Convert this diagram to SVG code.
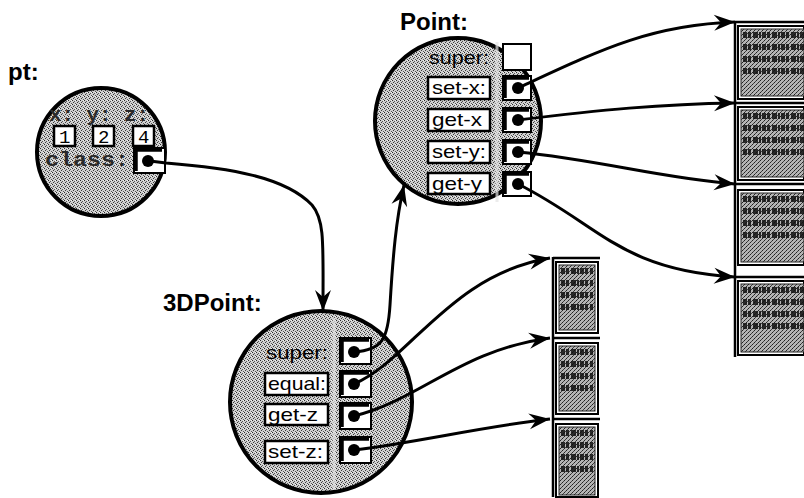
<svg xmlns="http://www.w3.org/2000/svg" width="804" height="498" viewBox="0 0 804 498">
<style>
.title{font-family:"Liberation Sans",Arial,sans-serif;font-weight:bold;font-size:24px;fill:#000}
.lbl{font-family:"Liberation Sans",Arial,sans-serif;font-size:19px;fill:#000}
.mono{font-family:"Liberation Mono","Courier New",monospace;font-size:20px;font-weight:bold;fill:#2a2a2a}
.num{font-family:"Liberation Mono","Courier New",monospace;font-size:19px;fill:#000}
.orb{fill:url(#dither);stroke:#000;stroke-width:4}
.lbox{fill:#fff;stroke:#000;stroke-width:2.5}
.vbox{fill:#fff;stroke:#000;stroke-width:2}
.vin{fill:none;stroke:#000;stroke-width:3.5}
.dot{fill:#000}
.conn{fill:none;stroke:#000;stroke-width:3;marker-end:url(#arr)}
.frame{fill:#fff;stroke:#000;stroke-width:2}
.code{fill:url(#dark);stroke:#222;stroke-width:1}
.glyph{stroke:#111;stroke-width:6;stroke-dasharray:4 1 3 2 5 1 2 1;fill:none;opacity:0.85}
.stripe{stroke:#e4e4e4;stroke-width:3;opacity:0.7}
.rule{stroke:#000;stroke-width:2.5}
</style>
<defs>
<pattern id="dither" width="4" height="4" patternUnits="userSpaceOnUse">
<rect width="4" height="4" fill="#d0d0d0"/>
<rect x="0" y="0" width="1" height="1" fill="#2a2a2a"/>
<rect x="2" y="1" width="1" height="1" fill="#555"/>
<rect x="1" y="2" width="1" height="1" fill="#3a3a3a"/>
<rect x="3" y="3" width="1" height="1" fill="#555"/>
<rect x="3" y="0" width="1" height="1" fill="#f4f4f4"/>
</pattern>
<pattern id="dark" width="4" height="4" patternUnits="userSpaceOnUse">
<rect width="4" height="4" fill="#b4b4b4"/>
<rect x="0" y="0" width="1" height="1" fill="#222"/>
<rect x="2" y="2" width="1" height="1" fill="#222"/>
<rect x="1" y="3" width="1" height="1" fill="#444"/>
<rect x="3" y="1" width="1" height="1" fill="#444"/>
</pattern>
<marker id="arr" markerUnits="userSpaceOnUse" markerWidth="26" markerHeight="20" viewBox="-22 -10 24 20" refX="0" refY="0" orient="auto">
<path d="M0,0 L-21,-8 L-14,0 L-21,8 Z" fill="#000"/>
</marker>
</defs>

<g id="pt">
<text class="title" x="8" y="80">pt:</text>
<circle class="orb" cx="101" cy="152" r="64"/>
<text class="mono" x="49" y="121" textLength="100" lengthAdjust="spacingAndGlyphs">x: y: z:</text>
<rect class="lbox" x="54" y="126" width="21" height="20"/>
<text class="num" x="59" y="143">1</text>
<rect class="lbox" x="93" y="126" width="21" height="20"/>
<text class="num" x="98" y="143">2</text>
<rect class="lbox" x="133" y="126" width="21" height="20"/>
<text class="num" x="138" y="143">4</text>
<text class="mono" x="45" y="166" textLength="84" lengthAdjust="spacingAndGlyphs">class:</text>
<rect class="vbox" x="134" y="148" width="31" height="25"/>
<path class="vin" d="M136 171 V150 H162"/>
<circle class="dot" cx="148" cy="161" r="6"/>
</g>

<g id="Point">
<circle class="orb" cx="458" cy="121" r="83"/>
<text class="title" x="400" y="30">Point:</text>
<line class="stripe" x1="497" y1="42" x2="497" y2="202"/>
<text class="lbl" x="429" y="64" textLength="60" lengthAdjust="spacingAndGlyphs">super:</text>
<rect class="vbox" x="503" y="44" width="28" height="26"/>
<rect class="lbox" x="428" y="77" width="62" height="22"/>
<text class="lbl" x="432" y="94" textLength="54" lengthAdjust="spacingAndGlyphs">set-x:</text>
<rect class="vbox" x="503" y="76" width="28" height="24"/><path class="vin" d="M505 98 V78 H529"/><circle class="dot" cx="518" cy="88" r="6"/>
<rect class="lbox" x="428" y="109" width="62" height="22"/>
<text class="lbl" x="432" y="126" textLength="50" lengthAdjust="spacingAndGlyphs">get-x</text>
<rect class="vbox" x="503" y="108" width="28" height="24"/><path class="vin" d="M505 130 V110 H529"/><circle class="dot" cx="518" cy="120" r="6"/>
<rect class="lbox" x="428" y="141" width="62" height="22"/>
<text class="lbl" x="432" y="158" textLength="54" lengthAdjust="spacingAndGlyphs">set-y:</text>
<rect class="vbox" x="503" y="140" width="28" height="24"/><path class="vin" d="M505 162 V142 H529"/><circle class="dot" cx="518" cy="152" r="6"/>
<rect class="lbox" x="428" y="173" width="62" height="21"/>
<text class="lbl" x="432" y="190" textLength="50" lengthAdjust="spacingAndGlyphs">get-y</text>
<rect class="vbox" x="503" y="172" width="28" height="24"/><path class="vin" d="M505 194 V174 H529"/><circle class="dot" cx="518" cy="184" r="6"/>
</g>

<g id="ThreeDPoint">
<circle class="orb" cx="321" cy="402" r="91"/>
<text class="title" x="163" y="311">3DPoint:</text>
<line class="stripe" x1="334" y1="318" x2="334" y2="490"/>
<text class="lbl" x="266" y="359" textLength="62" lengthAdjust="spacingAndGlyphs">super:</text>
<rect class="vbox" x="340" y="338" width="31" height="26"/><path class="vin" d="M342 362 V340 H369"/><circle class="dot" cx="354" cy="352" r="6"/>
<rect class="lbox" x="265" y="373" width="63" height="22"/>
<text class="lbl" x="268" y="390" textLength="58" lengthAdjust="spacingAndGlyphs">equal:</text>
<rect class="vbox" x="340" y="371" width="31" height="26"/><path class="vin" d="M342 395 V373 H369"/><circle class="dot" cx="354" cy="384" r="6"/>
<rect class="lbox" x="265" y="404" width="63" height="21"/>
<text class="lbl" x="268" y="421" textLength="50" lengthAdjust="spacingAndGlyphs">get-z</text>
<rect class="vbox" x="340" y="403" width="31" height="26"/><path class="vin" d="M342 427 V405 H369"/><circle class="dot" cx="354" cy="416" r="6"/>
<rect class="lbox" x="265" y="441" width="63" height="22"/>
<text class="lbl" x="268" y="458" textLength="55" lengthAdjust="spacingAndGlyphs">set-z:</text>
<rect class="vbox" x="340" y="437" width="31" height="26"/><path class="vin" d="M342 461 V439 H369"/><circle class="dot" cx="354" cy="450" r="6"/>
</g>

<g id="methods3D">
<line class="rule" x1="553" y1="257" x2="553" y2="497"/>
<line class="rule" x1="553" y1="258" x2="600" y2="258"/>
<line class="rule" x1="553" y1="338" x2="600" y2="338"/>
<line class="rule" x1="553" y1="419" x2="600" y2="419"/>
<g id="m3d1"><rect class="frame" x="556" y="262" width="42" height="71"/><rect class="code" x="559" y="265" width="36" height="65"/>
<path class="glyph" d="M561 271 H593 M561 283 H593 M561 295 H593 M561 307 H593"/></g>
<g id="m3d2"><rect class="frame" x="556" y="343" width="42" height="71"/><rect class="code" x="559" y="346" width="36" height="65"/>
<path class="glyph" d="M561 352 H593 M561 364 H593 M561 376 H593 M561 388 H593"/></g>
<g id="m3d3"><rect class="frame" x="556" y="424" width="42" height="73"/><rect class="code" x="559" y="427" width="36" height="68"/>
<path class="glyph" d="M561 433 H593 M561 445 H593 M561 457 H593 M561 469 H593"/></g>
</g>

<g id="methodsPoint">
<line class="rule" x1="735" y1="21" x2="735" y2="357"/>
<line class="rule" x1="735" y1="22" x2="804" y2="22"/>
<line class="rule" x1="735" y1="103" x2="804" y2="103"/>
<line class="rule" x1="735" y1="184" x2="804" y2="184"/>
<line class="rule" x1="735" y1="277" x2="804" y2="277"/>
<g id="mp1"><rect class="frame" x="738" y="26" width="66" height="73"/><rect class="code" x="741" y="29" width="63" height="67"/>
<path class="glyph" d="M743 35 H804 M743 47 H804 M743 59 H804 M743 71 H804"/></g>
<g id="mp2"><rect class="frame" x="738" y="107" width="66" height="73"/><rect class="code" x="741" y="110" width="63" height="67"/>
<path class="glyph" d="M743 116 H804 M743 128 H804 M743 140 H804 M743 152 H804"/></g>
<g id="mp3"><rect class="frame" x="738" y="190" width="66" height="75"/><rect class="code" x="741" y="193" width="63" height="69"/>
<path class="glyph" d="M743 199 H804 M743 211 H804 M743 223 H804 M743 235 H804"/></g>
<g id="mp4"><rect class="frame" x="738" y="281" width="66" height="74"/><rect class="code" x="741" y="284" width="63" height="68"/>
<path class="glyph" d="M743 290 H804 M743 302 H804 M743 314 H804 M743 326 H804"/></g>
</g>

<g id="connectors">
<path class="conn" d="M150 161 L166 163 C230 168 285 177 312 205 C325 220 323 245 323 311"/>
<path class="conn" d="M354 352 C383 350 388 338 390 305 C393 255 396 220 404 185"/>
<path class="conn" d="M354 384 C410 360 450 275 550 258"/>
<path class="conn" d="M354 416 C420 400 460 350 550 338"/>
<path class="conn" d="M354 450 C420 442 480 427 550 419"/>
<path class="conn" d="M518 88 C600 50 650 25 735 22"/>
<path class="conn" d="M518 120 C600 110 660 104 735 103"/>
<path class="conn" d="M518 152 C600 160 660 178 735 184"/>
<path class="conn" d="M518 184 C600 225 620 270 735 277"/>
</g>
</svg>
